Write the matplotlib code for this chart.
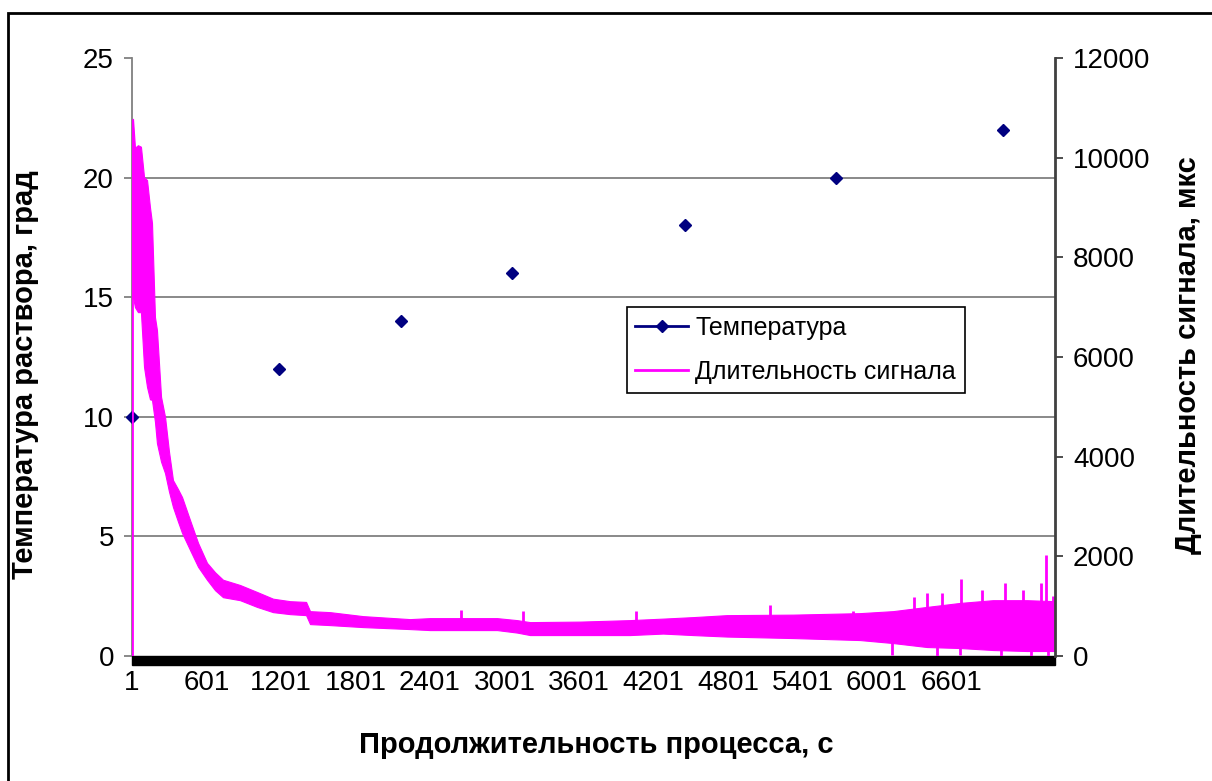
import numpy as np
import matplotlib
matplotlib.use("Agg")
from matplotlib import pyplot as plt
from matplotlib.lines import Line2D
from matplotlib.patches import Rectangle

plt.rcParams['font.family'] = ['Liberation Sans', 'DejaVu Sans']

# temperature readings (left axis)
temp_x = [1, 1185, 2165, 3060, 4455, 5670, 7015]
temp_y = [10, 12, 14, 16, 18, 20, 22]

# signal duration, read as lower / upper edge of the noisy band (right axis)
sig_x = [9, 25, 49, 73, 98, 122, 146, 162, 186, 202, 235, 267, 299, 331, 371,
         404, 468, 533, 605, 670, 734, 871, 1008, 1137, 1274, 1403, 1435, 1596,
         1862, 2240, 2401, 2941, 3102, 3207, 3609, 4012, 4278, 4519, 4793, 5325,
         5864, 6130, 6404, 6670, 6935, 7209, 7435]
sig_lo = [7200, 7000, 6900, 6900, 5800, 5400, 5150, 5140, 4700, 4270, 3900, 3670,
          3300, 2990, 2700, 2470, 2130, 1790, 1530, 1320, 1180, 1120, 985, 880,
          840, 820, 640, 620, 580, 540, 520, 520, 470, 420, 420, 420, 450, 420,
          390, 360, 320, 260, 180, 160, 120, 100, 100]
sig_hi = [10780, 10200, 10250, 10220, 9610, 9550, 9000, 8690, 6800, 6540, 5200,
          4800, 4100, 3530, 3350, 3190, 2730, 2270, 1870, 1680, 1530, 1425, 1285,
          1150, 1100, 1085, 900, 880, 800, 740, 760, 760, 720, 680, 690, 720, 750,
          780, 820, 830, 860, 900, 985, 1065, 1120, 1120, 1100]
# first sample and isolated spikes
start_x = [1, 1]
start_y = [0, 10780]
spike_x = [1360, 2650, 3150, 4060, 5140, 5810, 6302, 6407, 6528, 6680, 6850,
           7030, 7180, 7325, 7365, 7420,
           6122, 6485, 6670, 7000, 7240, 7380]
spike_y = [1000, 920, 900, 900, 1025, 900, 1185, 1265, 1265, 1545, 1325,
           1465, 1325, 1465, 2030, 1205,
           20, 0, 30, 0, 0, 0]

x_ticks = [1, 601, 1201, 1801, 2401, 3001, 3601, 4201, 4801, 5401, 6001, 6601]

fig = plt.figure(figsize=(12.12, 7.81), dpi=100)
fig.patches.append(Rectangle((8 / 1212, -0.05), 1.2, 1 - 13 / 781 + 0.05,
                             transform=fig.transFigure, fill=False,
                             edgecolor='black', linewidth=2))

ax = fig.add_axes([132 / 1212, 1 - 656 / 781, 923 / 1212, 598 / 781])
ax2 = ax.twinx()

grid_c = '#6a6a6a'
for v in [5, 10, 15, 20]:
    ax.axhline(v, color=grid_c, lw=1.1, zorder=0)

ax.plot(temp_x, temp_y, linestyle='none', marker='D', ms=6.6, color='#000080',
        zorder=3, clip_on=False)

mag = '#ff00ff'
mid = (np.array(sig_lo) + np.array(sig_hi)) / 2
ax2.fill_between(sig_x, sig_lo, sig_hi, color=mag, lw=0.8, edgecolor=mag)
ax2.vlines(start_x[0], start_y[0], start_y[1], color=mag, lw=2)
ax2.vlines(spike_x, np.interp(spike_x, sig_x, mid), spike_y, color=mag, lw=2)

ax.set_xlim(1, 7435)
ax.set_ylim(0, 25)
ax2.set_ylim(0, 12000)
ax.set_xticks(x_ticks)
ax.set_xticklabels([str(t) for t in x_ticks])
ax.set_yticks([0, 5, 10, 15, 20, 25])
ax2.set_yticks(range(0, 12001, 2000))

for a in (ax, ax2):
    for s in a.spines.values():
        s.set_visible(False)
ax.spines['left'].set_visible(True)
ax.spines['left'].set_color('#808080')
ax.spines['left'].set_linewidth(1.3)
ax2.spines['right'].set_visible(True)
ax2.spines['right'].set_color('#404040')
ax2.spines['right'].set_linewidth(2)

ax.tick_params(axis='y', direction='out', length=6, width=1.3, color='#808080',
               labelsize=20, pad=7)
ax2.tick_params(axis='y', direction='out', length=6, width=1.3, color='#404040',
                labelsize=20, pad=7)
ax.tick_params(axis='x', length=0, labelsize=20, pad=10)

# dense category tick marks along the bottom
ax.add_patch(Rectangle((0, -9 / 598), 1, 9 / 598, transform=ax.transAxes,
                       color='black', clip_on=False, zorder=5))

fig.text(25 / 1212, 1 - 375 / 781, 'Температура раствора, град', rotation=90,
         ha='center', va='center', fontsize=21, fontweight='bold')
fig.text(1188 / 1212, 1 - 355 / 781, 'Длительность сигнала, мкс', rotation=90,
         ha='center', va='center', fontsize=21, fontweight='bold')
fig.text(596 / 1212, 1 - 745 / 781, 'Продолжительность процесса, с',
         ha='center', va='center', fontsize=21, fontweight='bold')

handles = [Line2D([], [], color='#000080', marker='D', ms=6.6, lw=2),
           Line2D([], [], color=mag, lw=2)]
leg = ax2.legend(handles, ['Температура', 'Длительность сигнала'],
                 loc='upper left', bbox_to_anchor=(0.536, 0.583), fontsize=18,
                 frameon=True, fancybox=False, edgecolor='black', framealpha=1,
                 handlelength=2.1, borderpad=0.35, labelspacing=0.8,
                 handletextpad=0.3, borderaxespad=0)
leg.get_frame().set_linewidth(1.2)

fig.savefig('out.png', dpi=100)
